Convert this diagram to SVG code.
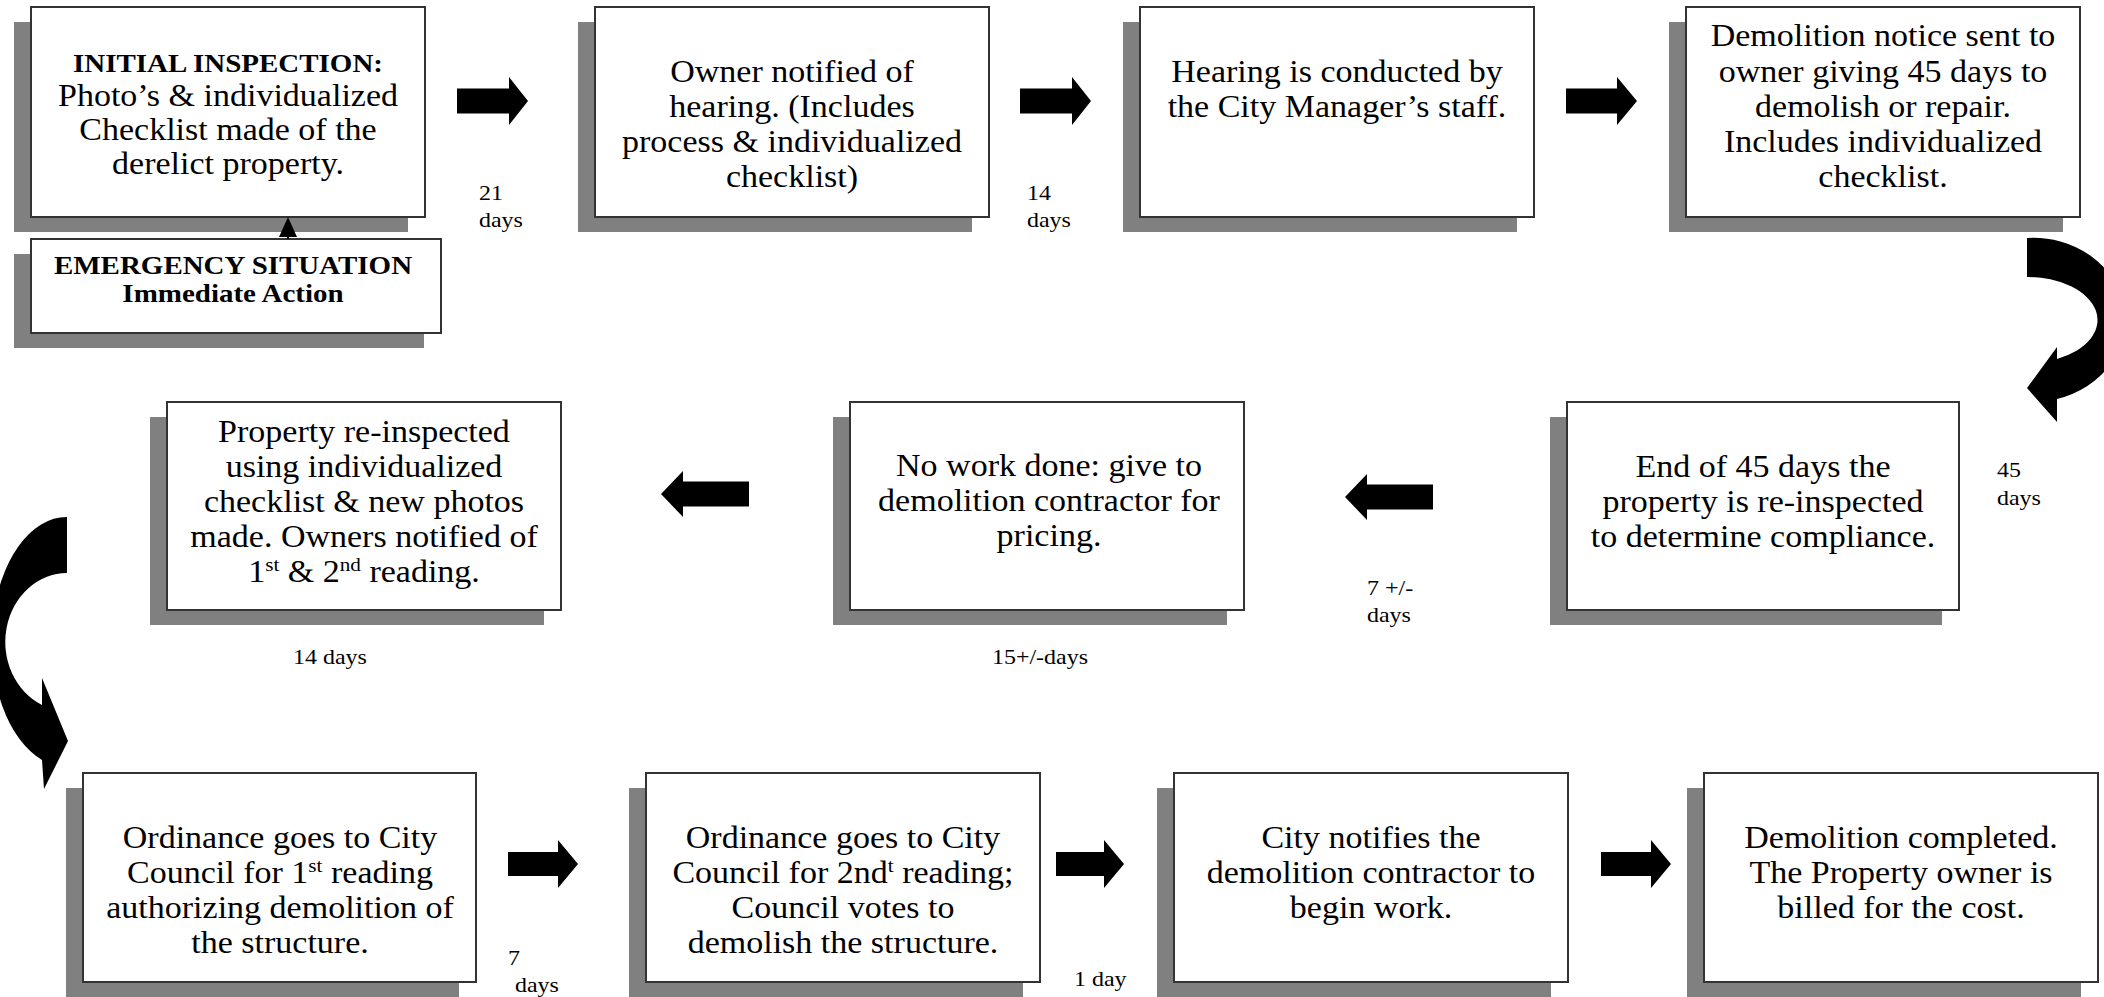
<svg xmlns="http://www.w3.org/2000/svg" width="2104" height="997" viewBox="0 0 2104 997">
<style>
.bg{fill:#ffffff}
.sh{fill:#808080;stroke:none}
.bx{fill:#ffffff;stroke:#333333;stroke-width:2}
.t{font-family:"Liberation Serif","Times New Roman",serif;font-size:30.5px;fill:#000;text-anchor:middle}
.hb{font-weight:bold;font-size:26px}
.lb{font-family:"Liberation Serif","Times New Roman",serif;font-size:21.5px;fill:#000}
.ar{fill:#000;stroke:none}
</style>
<rect class="bg" x="0" y="0" width="2104" height="997"/>

<g id="n1">
<rect class="sh" x="14" y="22" width="394" height="210"/>
<rect class="bx" x="31" y="7" width="394" height="210"/>
<g class="t" transform="matrix(1.115 0 0 1 228 0)">
<text x="0" y="72" class="hb">INITIAL INSPECTION:</text>
<text x="0" y="106">Photo’s &amp; individualized</text>
<text x="0" y="140">Checklist made of the</text>
<text x="0" y="174">derelict property.</text>
</g>
</g>

<g id="n0">
<rect class="sh" x="14" y="254" width="410" height="94"/>
<rect class="bx" x="31" y="239" width="410" height="94"/>
<g class="t" transform="matrix(1.115 0 0 1 233 0)">
<text x="0" y="274" class="hb">EMERGENCY SITUATION</text>
<text x="0" y="302" class="hb">Immediate Action</text>
</g>
</g>

<g id="n2">
<rect class="sh" x="578" y="22" width="394" height="210"/>
<rect class="bx" x="595" y="7" width="394" height="210"/>
<g class="t" transform="matrix(1.115 0 0 1 792 0)">
<text x="0" y="82">Owner notified of</text>
<text x="0" y="117">hearing. (Includes</text>
<text x="0" y="152">process &amp; individualized</text>
<text x="0" y="187">checklist)</text>
</g>
</g>

<g id="n3">
<rect class="sh" x="1123" y="22" width="394" height="210"/>
<rect class="bx" x="1140" y="7" width="394" height="210"/>
<g class="t" transform="matrix(1.115 0 0 1 1337 0)">
<text x="0" y="82">Hearing is conducted by</text>
<text x="0" y="117">the City Manager’s staff.</text>
</g>
</g>

<g id="n4">
<rect class="sh" x="1669" y="22" width="394" height="210"/>
<rect class="bx" x="1686" y="7" width="394" height="210"/>
<g class="t" transform="matrix(1.115 0 0 1 1883 0)">
<text x="0" y="46">Demolition notice sent to</text>
<text x="0" y="82">owner giving 45 days to</text>
<text x="0" y="117">demolish or repair.</text>
<text x="0" y="152">Includes individualized</text>
<text x="0" y="187">checklist.</text>
</g>
</g>

<g id="n5">
<rect class="sh" x="1550" y="417" width="392" height="208"/>
<rect class="bx" x="1567" y="402" width="392" height="208"/>
<g class="t" transform="matrix(1.115 0 0 1 1763 0)">
<text x="0" y="477">End of 45 days the</text>
<text x="0" y="512">property is re-inspected</text>
<text x="0" y="547">to determine compliance.</text>
</g>
</g>

<g id="n6">
<rect class="sh" x="833" y="417" width="394" height="208"/>
<rect class="bx" x="850" y="402" width="394" height="208"/>
<g class="t" transform="matrix(1.115 0 0 1 1049 0)">
<text x="0" y="476">No work done: give to</text>
<text x="0" y="511">demolition contractor for</text>
<text x="0" y="546">pricing.</text>
</g>
</g>

<g id="n7">
<rect class="sh" x="150" y="417" width="394" height="208"/>
<rect class="bx" x="167" y="402" width="394" height="208"/>
<g class="t" transform="matrix(1.115 0 0 1 364 0)">
<text x="0" y="442">Property re-inspected</text>
<text x="0" y="477">using individualized</text>
<text x="0" y="512">checklist &amp; new photos</text>
<text x="0" y="547">made. Owners notified of</text>
<text x="0" y="582">1<tspan dy="-11" font-size="19">st</tspan><tspan dy="11"> &amp; 2</tspan><tspan dy="-11" font-size="19">nd</tspan><tspan dy="11"> reading.</tspan></text>
</g>
</g>

<g id="n8">
<rect class="sh" x="66" y="788" width="393" height="209"/>
<rect class="bx" x="83" y="773" width="393" height="209"/>
<g class="t" transform="matrix(1.115 0 0 1 280 0)">
<text x="0" y="848">Ordinance goes to City</text>
<text x="0" y="883">Council for 1<tspan dy="-11" font-size="19">st</tspan><tspan dy="11"> reading</tspan></text>
<text x="0" y="918">authorizing demolition of</text>
<text x="0" y="953">the structure.</text>
</g>
</g>

<g id="n9">
<rect class="sh" x="629" y="788" width="394" height="209"/>
<rect class="bx" x="646" y="773" width="394" height="209"/>
<g class="t" transform="matrix(1.115 0 0 1 843 0)">
<text x="0" y="848">Ordinance goes to City</text>
<text x="0" y="883">Council for 2nd<tspan dy="-11" font-size="19">t</tspan><tspan dy="11"> reading;</tspan></text>
<text x="0" y="918">Council votes to</text>
<text x="0" y="953">demolish the structure.</text>
</g>
</g>

<g id="n10">
<rect class="sh" x="1157" y="788" width="394" height="209"/>
<rect class="bx" x="1174" y="773" width="394" height="209"/>
<g class="t" transform="matrix(1.115 0 0 1 1371 0)">
<text x="0" y="848">City notifies the</text>
<text x="0" y="883">demolition contractor to</text>
<text x="0" y="918">begin work.</text>
</g>
</g>

<g id="n11">
<rect class="sh" x="1687" y="788" width="394" height="209"/>
<rect class="bx" x="1704" y="773" width="394" height="209"/>
<g class="t" transform="matrix(1.115 0 0 1 1901 0)">
<text x="0" y="848">Demolition completed.</text>
<text x="0" y="883">The Property owner is</text>
<text x="0" y="918">billed for the cost.</text>
</g>
</g>

<g id="connectors">
<line x1="288" y1="239" x2="288" y2="234" stroke="#000" stroke-width="2"/>
<polygon class="ar" points="279,237 297,237 288,217"/>
<polygon class="ar" points="457,88.5 509,88.5 509,77 528,101 509,125 509,113.5 457,113.5"/>
<polygon class="ar" points="1020,88.5 1072,88.5 1072,77 1091,101 1072,125 1072,113.5 1020,113.5"/>
<polygon class="ar" points="1566,88.5 1617,88.5 1617,77 1637,101 1617,125 1617,113.5 1566,113.5"/>
<path class="ar" d="M 2027 238 A 92 82 0 0 1 2057 399 L 2057 422 L 2027 388 L 2057 347 L 2057 359 A 70 43 0 0 0 2027 277 Z"/>
<polygon class="ar" points="1433,484.5 1367,484.5 1367,474 1345,497 1367,520 1367,509.5 1433,509.5"/>
<polygon class="ar" points="749,481.5 683,481.5 683,471 661,494 683,517 683,506.5 749,506.5"/>
<path class="ar" d="M 67 517 A 75 125 0 0 0 42 760 L 44 789 L 68 741 L 42 678 L 42 705 A 62 69 0 0 1 67 573 Z"/>
<polygon class="ar" points="508,852 558,852 558,840 578,864 558,888 558,876 508,876"/>
<polygon class="ar" points="1056,852 1104,852 1104,840 1124,864 1104,888 1104,876 1056,876"/>
<polygon class="ar" points="1601,852 1651,852 1651,840 1671,864 1651,888 1651,876 1601,876"/>
<g class="lb">
<text transform="matrix(1.115 0 0 1 479 200)">21</text>
<text transform="matrix(1.115 0 0 1 479 227)">days</text>
<text transform="matrix(1.115 0 0 1 1027 200)">14</text>
<text transform="matrix(1.115 0 0 1 1027 227)">days</text>
<text transform="matrix(1.115 0 0 1 1997 477)">45</text>
<text transform="matrix(1.115 0 0 1 1997 505)">days</text>
<text transform="matrix(1.115 0 0 1 1367 595)">7 +/-</text>
<text transform="matrix(1.115 0 0 1 1367 622)">days</text>
<text transform="matrix(1.115 0 0 1 992 664)">15+/-days</text>
<text transform="matrix(1.115 0 0 1 293 664)">14 days</text>
<text transform="matrix(1.115 0 0 1 508 965)">7</text>
<text transform="matrix(1.115 0 0 1 515 992)">days</text>
<text transform="matrix(1.115 0 0 1 1074 986)">1 day</text>
</g>
</g>
</svg>
